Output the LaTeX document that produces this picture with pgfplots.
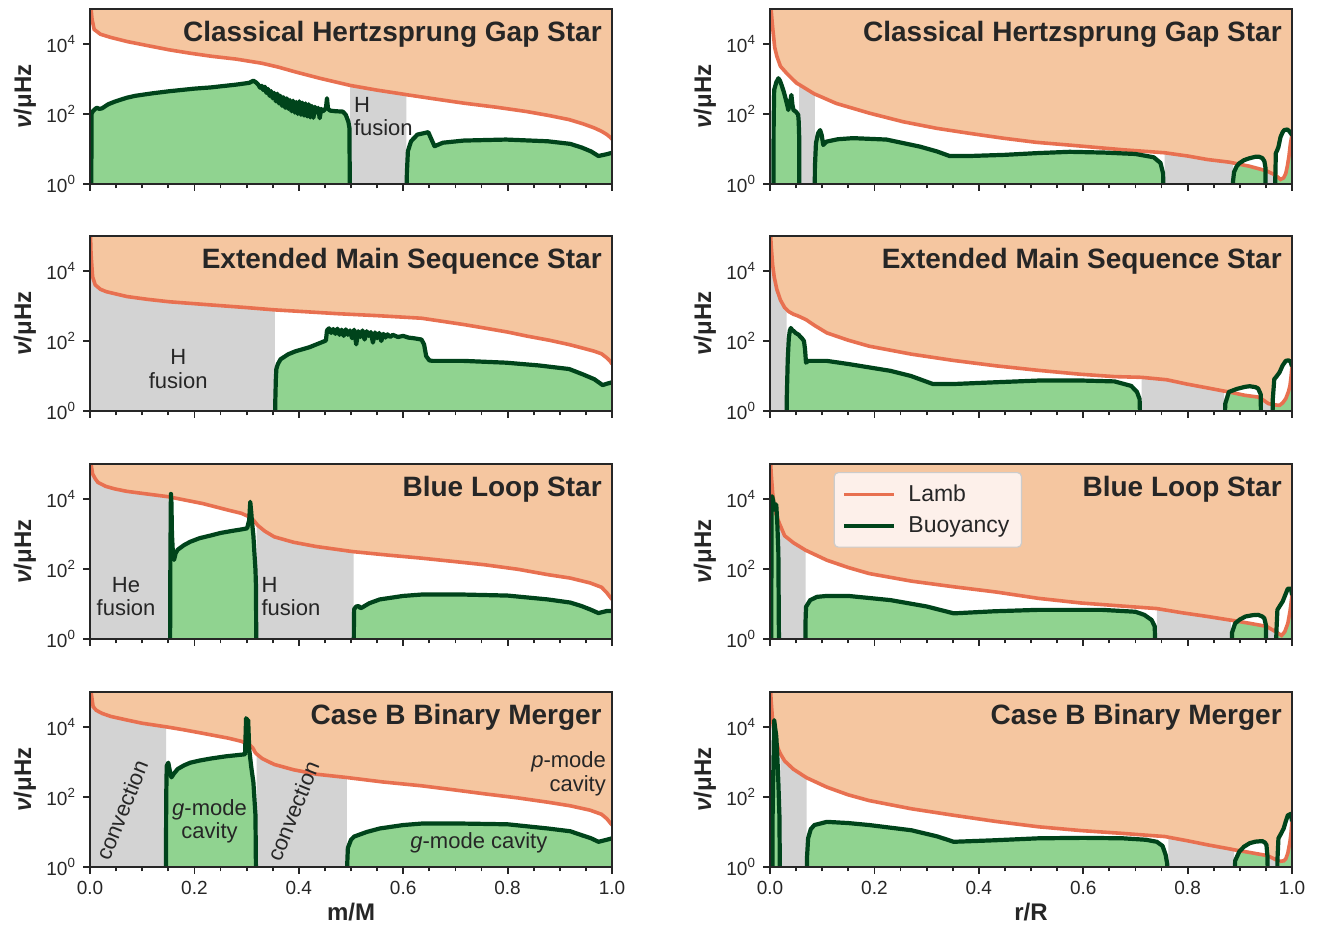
\documentclass[border=0pt]{standalone}
\usepackage{fontspec}
\setmainfont{Liberation Sans}
\usepackage{pgfplots}
\usepackage{pgfplotstable}
\pgfplotsset{compat=1.18}

\definecolor{pcav}{RGB}{245,198,160}
\definecolor{lambc}{RGB}{232,112,80}
\definecolor{gcav}{RGB}{144,211,144}
\definecolor{bvc}{RGB}{0,68,27}
\definecolor{conv}{RGB}{211,211,211}
\definecolor{ink}{RGB}{38,38,38}
\definecolor{legbg}{RGB}{253,240,234}
\definecolor{legdraw}{RGB}{204,204,204}

% ---------- Lamb frequency (left column: m/M) ----------
\pgfplotstableread{
x y
0 300000
0.002 100000
0.004 50000
0.008 26000
0.02 19000
0.039 15500
0.071 11750
0.11 9000
0.152 6800
0.19 5500
0.232 4470
0.28 3700
0.329 2820
0.36 2200
0.394 1585
0.44 1050
0.4985 655
0.55 480
0.603 363
0.606 356
0.66 270
0.716 204
0.78 155
0.837 117
0.88 90
0.918 69
0.945 52
0.966 40
0.98 32
0.99 26
0.996 22
1.0 19
}\lamla
\pgfplotstableread{
x y
0 300000
0.002 30000
0.005 6800
0.01 4000
0.02 3000
0.031 2570
0.05 2200
0.071 1860
0.11 1550
0.152 1320
0.232 1070
0.3 900
0.353 776
0.354 774
0.41 690
0.474 603
0.55 530
0.635 447
0.676 363
0.716 295
0.756 234
0.8 180
0.837 138
0.88 105
0.918 79
0.945 62
0.966 51
0.98 43
0.99 33
0.996 27
1.0 22
}\lamlb
\pgfplotstableread{
x y
0 300000
0.002 100000
0.005 52000
0.01 38000
0.015 30000
0.03 23000
0.047 19500
0.07 16600
0.095 14800
0.152 11500
0.154 11300
0.216 7400
0.265 4800
0.29 3900
0.305 3100
0.313 2500
0.319 1950
0.321 1780
0.335 1200
0.353 830
0.39 580
0.434 437
0.502 316
0.505 312
0.57 250
0.635 204
0.7 162
0.756 132
0.82 98
0.877 69
0.92 55
0.958 40
0.98 30
0.99 21
1.0 13.5
}\lamlc
\pgfplotstableread{
x y
0 300000
0.002 100000
0.006 38000
0.012 30000
0.023 24500
0.04 20000
0.071 15800
0.1 12800
0.144 10200
0.146 10100
0.18 8300
0.216 6600
0.265 4800
0.29 3900
0.305 3160
0.312 2500
0.317 1820
0.319 1700
0.33 1250
0.353 850
0.39 600
0.434 447
0.49 363
0.492 360
0.56 270
0.635 209
0.7 158
0.756 123
0.82 94
0.877 71
0.92 56
0.958 42
0.98 32
0.99 24
1.0 15.8
}\lamld

% ---------- Buoyancy frequency (left column) ----------
\pgfplotstableread{
x y
0 0.01
0.002 0.01
0.003 100
0.005 117
0.009 135
0.013 151
0.018 140
0.023 145
0.035 190
0.047 224
0.07 290
0.087 331
0.12 390
0.152 447
0.2 530
0.232 575
0.28 690
0.305 776
0.313 891
0.318 800
0.322 700
0.326 560
0.329 640
0.332 480
0.335 600
0.338 400
0.341 520
0.344 330
0.347 450
0.35 280
0.353 400
0.356 230
0.359 380
0.362 200
0.365 330
0.368 170
0.371 300
0.374 150
0.377 280
0.38 140
0.383 250
0.386 120
0.389 240
0.392 110
0.395 220
0.398 100
0.401 230
0.404 95
0.407 210
0.41 90
0.413 200
0.416 85
0.419 190
0.422 80
0.425 170
0.428 78
0.431 160
0.434 110
0.437 150
0.44 76
0.443 140
0.446 120
0.449 130
0.452 150
0.454 282
0.456 140
0.46 125
0.47 120
0.484 117
0.49 95
0.495 60
0.497 40
0.4985 0.01
0.606 0.01
0.607 2
0.609 8.7
0.615 16.6
0.627 25.7
0.648 30.2
0.66 12
0.676 15.1
0.716 17.4
0.797 18.6
0.877 16.6
0.92 14
0.942 11
0.96 8.5
0.974 6.3
0.99 7.1
1.0 7.8
}\bvla
\pgfplotstableread{
x y
0 0.01
0.354 0.01
0.355 2
0.356 8
0.357 16
0.36 22
0.365 30
0.38 42
0.394 51
0.42 66
0.45 100
0.452 105
0.454 200
0.458 230
0.462 170
0.466 220
0.47 160
0.474 225
0.478 150
0.482 210
0.486 140
0.49 215
0.494 150
0.498 200
0.502 120
0.506 210
0.51 80
0.514 190
0.518 130
0.522 200
0.526 110
0.53 190
0.534 140
0.538 180
0.542 90
0.546 175
0.55 120
0.554 170
0.558 100
0.562 160
0.566 125
0.57 155
0.575 130
0.58 150
0.59 130
0.6 140
0.61 125
0.62 120
0.635 110
0.64 80
0.644 37
0.65 28
0.656 27
0.716 27
0.797 24
0.86 20
0.918 15.8
0.945 11
0.966 8.1
0.982 5.5
0.99 6
1.0 6.6
}\bvlb
\pgfplotstableread{
x y
0 0.01
0.153 0.01
0.154 200
0.155 14000
0.156 8000
0.157 1000
0.159 250
0.161 182
0.164 280
0.168 355
0.18 480
0.192 600
0.21 760
0.232 912
0.25 1070
0.273 1230
0.29 1350
0.301 1450
0.305 2500
0.307 8300
0.309 4000
0.31 2500
0.313 900
0.315 282
0.317 95
0.318 30
0.319 0.01
0.505 0.01
0.5055 2
0.506 7.1
0.51 8.5
0.515 8.7
0.518 7.6
0.521 7.9
0.535 10.5
0.555 13.5
0.6 17
0.635 18.6
0.716 18.6
0.8 17.4
0.877 13.5
0.92 11
0.942 8.7
0.96 6.8
0.974 5.5
0.99 6.3
1.0 6.3
}\bvlc
\pgfplotstableread{
x y
0 0.01
0.145 0.01
0.146 100
0.147 776
0.15 955
0.153 550
0.156 363
0.16 450
0.168 631
0.18 800
0.192 955
0.21 1100
0.232 1260
0.26 1450
0.297 1660
0.299 17800
0.301 16000
0.303 15800
0.305 2300
0.309 700
0.313 263
0.317 30
0.319 0.01
0.492 0.01
0.493 1.5
0.494 3.5
0.5 6
0.506 7.4
0.53 10
0.555 12.6
0.6 15.8
0.635 17.4
0.716 17.4
0.8 16.6
0.877 12.6
0.92 10.5
0.942 8.1
0.96 6.6
0.974 5.25
0.99 6
1.0 6.6
}\bvld

% ---------- Lamb frequency (right column: r/R) ----------
\pgfplotstableread{
x y
0 300000
0.002 100000
0.005 30000
0.009 8000
0.013 4500
0.02 2300
0.032 1450
0.051 760
0.056 690
0.083 390
0.086 370
0.127 200
0.191 105
0.255 60
0.319 39
0.382 28
0.446 20.4
0.51 15.5
0.574 12.9
0.676 9.5
0.756 7.8
0.80 6.3
0.838 5.0
0.88 4.2
0.887 4.0
0.919 3.2
0.95 2.4
0.951 2.37
0.968 1.8
0.978 1.35
0.984 1.5
0.988 2.0
0.991 3.2
0.994 6
0.997 14.5
1.0 25
}\lamra
\pgfplotstableread{
x y
0 300000
0.002 60000
0.005 15000
0.008 6800
0.013 3000
0.02 1480
0.028 900
0.032 790
0.036 690
0.045 580
0.053 525
0.06 470
0.069 407
0.085 280
0.109 170
0.15 105
0.19 71
0.271 42
0.35 28
0.433 19.5
0.514 14.5
0.595 11.2
0.66 9.6
0.712 9.15
0.76 7.8
0.798 5.9
0.84 4.5
0.87 3.7
0.879 3.5
0.91 2.8
0.935 2.5
0.942 2.2
0.955 1.62
0.962 1.55
0.966 1.5
0.976 1.45
0.982 1.7
0.988 2.24
0.993 3.5
0.996 5.2
0.998 9
1.0 19
}\lamrb
\pgfplotstableread{
x y
0 300000
0.002 60000
0.005 15000
0.008 6500
0.012 3500
0.018 2000
0.02 1700
0.028 890
0.045 560
0.068 345
0.109 178
0.15 110
0.19 74
0.271 45
0.352 31
0.433 22
0.514 14.5
0.595 10.7
0.676 8.7
0.741 7.4
0.79 5.6
0.838 4.4
0.88 3.5
0.883 3.45
0.919 2.8
0.951 2.3
0.966 1.7
0.969 1.6
0.98 1.26
0.986 1.6
0.992 2.8
0.996 6
0.998 10
1.0 18
}\lamrc
\pgfplotstableread{
x y
0 300000
0.002 60000
0.005 15000
0.008 6800
0.016 2300
0.02 1700
0.028 1070
0.045 620
0.07 355
0.109 191
0.15 115
0.19 79
0.271 46
0.352 30
0.433 20
0.514 14.1
0.595 11
0.676 9.1
0.757 7.4
0.763 7.1
0.8 5.6
0.838 4.3
0.88 3.3
0.889 3.1
0.919 2.6
0.951 2.14
0.955 2.05
0.966 1.7
0.971 1.57
0.976 1.45
0.984 1.5
0.988 1.7
0.992 2.5
0.996 5.2
0.998 9
1.0 20
}\lamrd

% ---------- Buoyancy frequency (right column) ----------
\pgfplotstableread{
x y
0 0.01
0.006 0.01
0.007 60
0.008 490
0.012 800
0.016 1050
0.019 900
0.022 680
0.026 450
0.029 310
0.033 180
0.035 130
0.038 200
0.041 350
0.043 180
0.045 130
0.05 115
0.054 95
0.055 60
0.056 20
0.0565 0.01
0.085 0.01
0.086 3
0.088 14.5
0.092 28
0.096 34.7
0.099 25
0.102 13
0.108 16.2
0.13 19
0.159 20.4
0.223 18.6
0.287 11.7
0.32 8.5
0.344 6.3
0.382 6.3
0.45 6.8
0.51 7.6
0.574 8.3
0.64 7.9
0.7 7.2
0.735 5.8
0.748 4
0.753 2
0.756 0.01
0.886 0.01
0.887 1.2
0.889 2.2
0.894 3.2
0.899 3.9
0.908 4.8
0.918 5.4
0.93 6
0.937 6
0.943 5.5
0.947 4.5
0.949 3
0.951 0.01
0.9675 0.01
0.968 1.5
0.969 7.6
0.972 9.5
0.974 11.5
0.978 22
0.982 30
0.985 34.7
0.991 36
0.995 32
1.0 25
}\bvra
\pgfplotstableread{
x y
0 0.01
0.031 0.01
0.032 2
0.034 30
0.036 120
0.038 200
0.04 235
0.043 200
0.046 190
0.049 170
0.052 160
0.055 150
0.057 138
0.061 120
0.065 100
0.067 60
0.069 24
0.073 27
0.109 27
0.15 22
0.231 14
0.27 10
0.312 5.9
0.352 5.9
0.43 6.6
0.514 7.4
0.6 7.4
0.66 7
0.692 5.2
0.703 3.5
0.708 2.2
0.712 0.01
0.87 0.01
0.872 1.6
0.879 3.5
0.895 4.3
0.91 4.9
0.919 5.1
0.93 4.8
0.935 4.4
0.94 3
0.942 0.01
0.962 0.01
0.963 2
0.966 8.1
0.971 10
0.976 12.6
0.982 20
0.988 27
0.993 28
0.997 26
1.0 19
}\bvrb
\pgfplotstableread{
x y
0 0.01
0.002 0.01
0.003 5000
0.004 12000
0.006 9000
0.008 5000
0.01 7000
0.012 6900
0.014 2000
0.016 300
0.018 0.01
0.067 0.01
0.068 3
0.069 8.3
0.077 12.9
0.09 16
0.109 17
0.15 17
0.231 12.9
0.3 8.5
0.352 5.4
0.43 6.2
0.514 6.8
0.636 6.8
0.7 6
0.717 4.9
0.731 3.5
0.737 2.3
0.741 0.01
0.883 0.01
0.885 1.5
0.891 2.8
0.9 3.6
0.911 4.4
0.925 4.8
0.935 4.9
0.943 4.4
0.947 3.9
0.95 2.5
0.951 0.01
0.969 0.01
0.97 1.5
0.972 6.8
0.977 9
0.982 11.7
0.987 18
0.992 27.5
0.998 27.5
1.0 18
}\bvrc
\pgfplotstableread{
x y
0 0.01
0.004 0.01
0.005 30
0.006 263
0.007 2000
0.008 15800
0.01 9000
0.012 5500
0.014 1500
0.016 263
0.018 30
0.02 0.01
0.07 0.01
0.071 2
0.073 6.6
0.078 12
0.085 15.8
0.109 19.5
0.15 18
0.19 15.8
0.271 11.2
0.32 7.5
0.352 5.25
0.43 5.8
0.514 6.6
0.6 6.8
0.676 6.6
0.72 6
0.741 5.25
0.752 4
0.758 2.2
0.761 1.2
0.763 0.01
0.889 0.01
0.891 1.5
0.899 2.75
0.908 3.8
0.919 4.8
0.93 5.3
0.943 5.5
0.948 5
0.951 4.3
0.953 2
0.955 0.01
0.971 0.01
0.972 1.5
0.974 6.6
0.979 9
0.984 12.6
0.988 20
0.992 30
0.998 33
1.0 20
}\bvrd

\pgfplotsset{legend image code/.code={\draw[#1] (0pt,0pt) -- (25pt,0pt); \path (29pt,0pt);}}
\pgfplotsset{
  convfill/.style={fill=conv, draw=none, forget plot},
  bvfill/.style={fill=gcav, draw=none, forget plot},
  whitefill/.style={fill=white, draw=none, forget plot},
  lamline/.style={lambc, line width=1.8pt, forget plot},
  bvline/.style={bvc, line width=2.1pt, line join=round, forget plot},
}
\tikzset{
  ptitle/.style={anchor=north east, inner sep=0pt, font=\fontsize{14}{16}\selectfont\bfseries, text=ink},
  pnote/.style={inner sep=0pt, font=\fontsize{11}{11.8}\selectfont, text=ink},
}

% one panel: common axis settings, extra options as argument
\newenvironment{starax}[1]{%
\begin{axis}[
    scale only axis, width=261pt, height=87.5pt,
    anchor=south west,
    xmin=0, xmax=1, ymode=log, ymin=1, ymax=1e5,
    axis background/.style={fill=pcav},
    axis on top,
    axis line style={ink, line width=1.4pt},
    xtick={0,0.2,0.4,0.6,0.8,1}, minor x tick num=3,
    ytick={1,100,10000}, yminorticks=false,
    yticklabels={10\textsuperscript{0},10\textsuperscript{2},10\textsuperscript{4}},
    xtick pos=left, ytick pos=left,
    tick align=outside,
    major tick length=3.5pt, minor tick length=2.2pt,
    every tick/.append style={ink, line width=0.9pt},
    ticklabel style={font=\fontsize{9.5}{11}\selectfont, text=ink},
    xticklabel style={/pgf/number format/fixed, /pgf/number format/fixed zerofill,
      /pgf/number format/precision=1, /pgf/number format/assume math mode=true},
    ylabel={\textit{ν}/μHz},
    ylabel style={at={(axis description cs:-0.125,0.5)}, anchor=center,
      font=\fontsize{12}{14}\selectfont\bfseries, text=ink},
    xlabel style={at={(axis description cs:0.5,-0.257)}, anchor=center,
      font=\fontsize{12}{14}\selectfont\bfseries, text=ink},
    #1]}{\end{axis}}

\begin{document}
\begin{tikzpicture}
\useasboundingbox (0,0) rectangle (660pt,465pt);

% ===== row 1 left =====
\begin{starax}{at={(45pt,373pt)}, xticklabels={}}
\addplot[whitefill] table {\lamla} \closedcycle;
\addplot[convfill, restrict x to domain=0.498:0.6065] table {\lamla} \closedcycle;
\addplot[bvfill] table {\bvla} \closedcycle;
\addplot[lamline] table {\lamla};
\addplot[bvline] table {\bvla};
\node[ptitle] at (rel axis cs:0.981,0.93) {Classical Hertzsprung Gap Star};
\node[pnote, anchor=north west, align=left] at (axis cs:0.505,310) {H\\fusion};
\end{starax}

% ===== row 1 right =====
\begin{starax}{at={(385pt,373pt)}, xticklabels={}}
\addplot[whitefill] table {\lamra} \closedcycle;
\addplot[convfill, restrict x to domain=0.0555:0.0865] table {\lamra} \closedcycle;
\addplot[convfill, restrict x to domain=0.7555:0.8875] table {\lamra} \closedcycle;
\addplot[convfill, restrict x to domain=0.9505:0.9685] table {\lamra} \closedcycle;
\addplot[bvfill] table {\bvra} \closedcycle;
\addplot[whitefill] coordinates {(0.9,3.8) (0.908,4.8) (0.918,5.4) (0.93,6) (0.937,6) (0.943,5.5) (0.947,4.5) (0.949,3) (0.9495,2.45) (0.94,2.65) (0.93,2.9) (0.919,3.2) (0.91,3.5)};
\addplot[whitefill] coordinates {(0.9682,1.8) (0.969,7.6) (0.972,9.5) (0.974,11.5) (0.978,22) (0.982,30) (0.985,34.7) (0.991,36) (0.995,32) (1.0,25) (0.997,14.5) (0.994,6) (0.991,3.2) (0.988,2.0) (0.984,1.5) (0.978,1.35)};
\addplot[lamline] table {\lamra};
\addplot[bvline] table {\bvra};
\node[ptitle] at (rel axis cs:0.981,0.93) {Classical Hertzsprung Gap Star};
\end{starax}

% ===== row 2 left =====
\begin{starax}{at={(45pt,259.5pt)}, xticklabels={}}
\addplot[whitefill] table {\lamlb} \closedcycle;
\addplot[convfill, restrict x to domain=-0.1:0.3545] table {\lamlb} \closedcycle;
\addplot[bvfill] table {\bvlb} \closedcycle;
\addplot[lamline] table {\lamlb};
\addplot[bvline] table {\bvlb};
\node[ptitle] at (rel axis cs:0.981,0.93) {Extended Main Sequence Star};
\node[pnote, anchor=north, align=center] at (axis cs:0.169,58) {H\\fusion};
\end{starax}

% ===== row 2 right =====
\begin{starax}{at={(385pt,259.5pt)}, xticklabels={}}
\addplot[whitefill] table {\lamrb} \closedcycle;
\addplot[convfill, restrict x to domain=-0.1:0.0325] table {\lamrb} \closedcycle;
\addplot[convfill, restrict x to domain=0.7115:0.8705] table {\lamrb} \closedcycle;
\addplot[convfill, restrict x to domain=0.9415:0.9625] table {\lamrb} \closedcycle;
\addplot[bvfill] table {\bvrb} \closedcycle;
\addplot[whitefill] coordinates {(0.879,3.5) (0.895,4.3) (0.91,4.9) (0.919,5.1) (0.93,4.8) (0.935,4.4) (0.94,3) (0.941,2.2) (0.935,2.5) (0.91,2.8) (0.895,3.1)};
\addplot[whitefill] coordinates {(0.9628,1.53) (0.966,8.1) (0.971,10) (0.976,12.6) (0.982,20) (0.988,27) (0.993,28) (0.997,26) (1.0,19) (0.998,9) (0.996,5.2) (0.993,3.5) (0.988,2.24) (0.982,1.7) (0.976,1.45) (0.966,1.5)};
\addplot[lamline] table {\lamrb};
\addplot[bvline] table {\bvrb};
\node[ptitle] at (rel axis cs:0.981,0.93) {Extended Main Sequence Star};
\end{starax}

% ===== row 3 left =====
\begin{starax}{at={(45pt,145.5pt)}, xticklabels={}}
\addplot[whitefill] table {\lamlc} \closedcycle;
\addplot[convfill, restrict x to domain=-0.1:0.1545] table {\lamlc} \closedcycle;
\addplot[convfill, restrict x to domain=0.3185:0.5055] table {\lamlc} \closedcycle;
\addplot[bvfill] table {\bvlc} \closedcycle;
\addplot[lamline] table {\lamlc};
\addplot[bvline] table {\bvlc};
\node[ptitle] at (rel axis cs:0.981,0.93) {Blue Loop Star};
\node[pnote, anchor=north, align=center] at (axis cs:0.069,60) {He\\fusion};
\node[pnote, anchor=north west, align=left] at (axis cs:0.328,60) {H\\fusion};
\end{starax}

% ===== row 3 right =====
\begin{starax}{at={(385pt,145.5pt)}, xticklabels={},
  legend style={at={(0.122,0.954)}, anchor=north west, fill=legbg, draw=legdraw,
    rounded corners=2pt, line width=0.6pt, font=\fontsize{11.5}{13}\selectfont,
    text=ink, inner xsep=4pt, inner ysep=4pt, row sep=2pt},
  legend cell align=left}
\addplot[whitefill] table {\lamrc} \closedcycle;
\addplot[convfill, restrict x to domain=0.0175:0.0685] table {\lamrc} \closedcycle;
\addplot[convfill, restrict x to domain=0.7405:0.8835] table {\lamrc} \closedcycle;
\addplot[convfill, restrict x to domain=0.9505:0.9695] table {\lamrc} \closedcycle;
\addplot[bvfill] table {\bvrc} \closedcycle;
\addplot[whitefill] coordinates {(0.896,3.2) (0.9,3.6) (0.911,4.4) (0.925,4.8) (0.935,4.9) (0.943,4.4) (0.947,3.9) (0.95,2.5) (0.9502,2.3) (0.935,2.55) (0.919,2.8) (0.9,3.1)};
\addplot[whitefill] coordinates {(0.9701,1.55) (0.972,6.8) (0.977,9) (0.982,11.7) (0.987,18) (0.992,27.5) (0.998,27.5) (1.0,18) (0.998,10) (0.996,6) (0.992,2.8) (0.986,1.6) (0.98,1.26)};
\addplot[lamline] table {\lamrc};
\addplot[bvline] table {\bvrc};
\addlegendimage{lambc, line width=1.8pt}
\addlegendentry{Lamb}
\addlegendimage{bvc, line width=2.1pt}
\addlegendentry{Buoyancy}
\node[ptitle] at (rel axis cs:0.981,0.93) {Blue Loop Star};
\end{starax}

% ===== row 4 left =====
\begin{starax}{at={(45pt,31.5pt)}, xlabel={m/M}}
\addplot[whitefill] table {\lamld} \closedcycle;
\addplot[convfill, restrict x to domain=-0.1:0.1465] table {\lamld} \closedcycle;
\addplot[convfill, restrict x to domain=0.3185:0.4925] table {\lamld} \closedcycle;
\addplot[bvfill] table {\bvld} \closedcycle;
\addplot[lamline] table {\lamld};
\addplot[bvline] table {\bvld};
\node[ptitle] at (rel axis cs:0.981,0.93) {Case B Binary Merger};
\node[pnote, rotate=68] at (axis cs:0.061,42) {convection};
\node[pnote, rotate=68] at (axis cs:0.389,40) {convection};
\node[pnote, align=center] at (axis cs:0.229,20) {\textit{g}-mode\\cavity};
\node[pnote, anchor=east, align=right] at (axis cs:0.989,457) {\textit{p}-mode\\cavity};
\node[pnote] at (axis cs:0.745,4.9) {\textit{g}-mode cavity};
\end{starax}

% ===== row 4 right =====
\begin{starax}{at={(385pt,31.5pt)}, xlabel={r/R}}
\addplot[whitefill] table {\lamrd} \closedcycle;
\addplot[convfill, restrict x to domain=0.0195:0.0705] table {\lamrd} \closedcycle;
\addplot[convfill, restrict x to domain=0.7625:0.8895] table {\lamrd} \closedcycle;
\addplot[convfill, restrict x to domain=0.9545:0.9715] table {\lamrd} \closedcycle;
\addplot[bvfill] table {\bvrd} \closedcycle;
\addplot[whitefill] coordinates {(0.901,2.95) (0.908,3.8) (0.919,4.8) (0.93,5.3) (0.943,5.5) (0.948,5) (0.951,4.3) (0.9528,2.1) (0.951,2.14) (0.93,2.45) (0.919,2.6) (0.908,2.8)};
\addplot[whitefill] coordinates {(0.9721,1.55) (0.974,6.6) (0.979,9) (0.984,12.6) (0.988,20) (0.992,30) (0.998,33) (1.0,20) (0.998,9) (0.996,5.2) (0.992,2.5) (0.988,1.7) (0.984,1.5) (0.976,1.45)};
\addplot[lamline] table {\lamrd};
\addplot[bvline] table {\bvrd};
\node[ptitle] at (rel axis cs:0.981,0.93) {Case B Binary Merger};
\end{starax}

\end{tikzpicture}
\end{document}
